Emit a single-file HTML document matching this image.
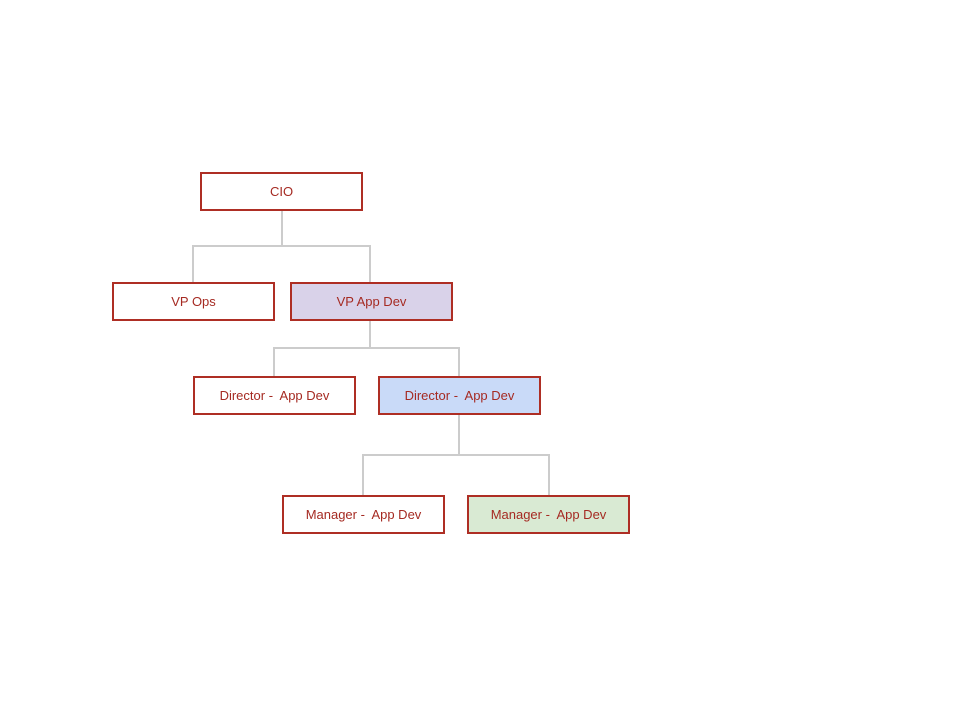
<!DOCTYPE html>
<html><head><style>
body{margin:0;width:960px;height:720px;background:#fff;position:relative;overflow:hidden;font-family:"Liberation Sans",sans-serif}
.b{position:absolute;box-sizing:border-box;border:2px solid #ae2e24;color:#a52a22;font-size:13px;display:flex;align-items:center;justify-content:center;height:39px;width:163px;background:#fff}
svg{position:absolute;left:0;top:0}
</style></head><body>
<svg width="960" height="720"><g stroke="#cccccc" stroke-width="2" fill="none">
<path d="M282 210V246M193 282V246H370V282"/>
<path d="M370 321V348M274 376V348H459V376"/>
<path d="M459 415V455M363 495V455H549V495"/>
</g></svg>
<div class="b" style="left:200px;top:172px">CIO</div>
<div class="b" style="left:112px;top:282px">VP Ops</div>
<div class="b" style="left:290px;top:282px;background:#d9d2e9">VP App Dev</div>
<div class="b" style="left:193px;top:376px">Director -&nbsp; App Dev</div>
<div class="b" style="left:378px;top:376px;background:#c9daf8">Director -&nbsp; App Dev</div>
<div class="b" style="left:282px;top:495px">Manager -&nbsp; App Dev</div>
<div class="b" style="left:467px;top:495px;background:#d9ead3">Manager -&nbsp; App Dev</div>
</body></html>
